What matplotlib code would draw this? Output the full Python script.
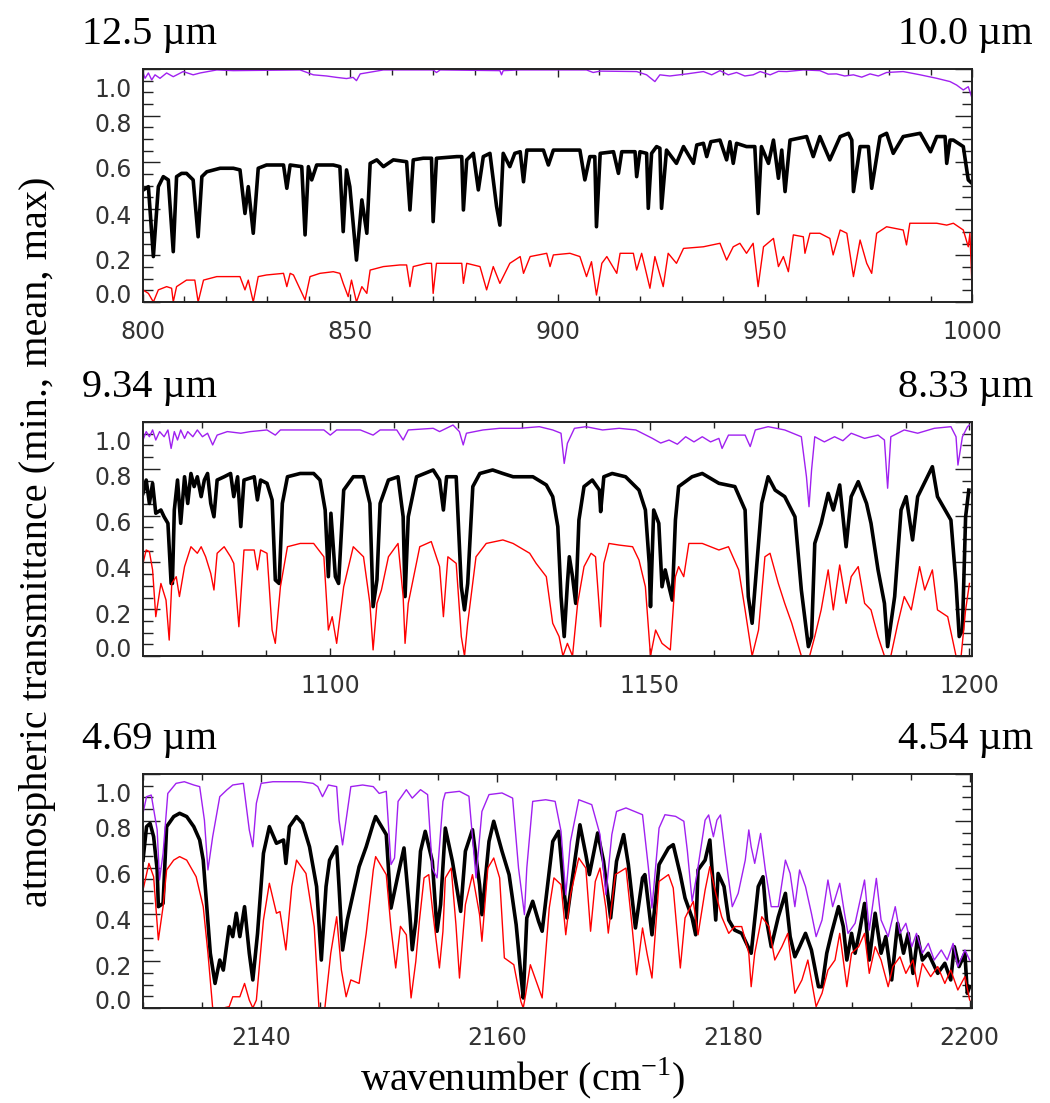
import matplotlib
matplotlib.use("Agg")
import matplotlib.pyplot as plt
import matplotlib.transforms as mtrans
from matplotlib.ticker import MultipleLocator

plt.rcParams['mathtext.fontset'] = 'custom'
plt.rcParams['mathtext.rm'] = 'Liberation Serif'

# ---- panel 1 : 800-1000 cm-1 (wavenumber, transmittance) ----
p1_max = [(799.9,0.989),(800.5,0.96),(801.3,0.983),(802.1,0.953),(802.9,0.975),(804.1,0.96),(805.7,0.983),
          (807.3,0.967),(809.7,0.989),(812.1,0.975),(813.8,0.983),(817.8,0.996),(821.8,0.993),(837.9,0.996),
          (841.1,0.975),(844.3,0.97),(846.7,0.964),(849.1,0.959),(850.7,0.964),(851.5,0.95),(852.4,0.979),
          (858.0,0.996),(870.0,0.996),(870.8,0.985),(871.7,0.996),(886.1,0.993),(886.5,0.975),(886.9,0.993),
          (891.0,0.996),(907.0,0.996),(908.6,0.985),(910.3,0.991),(919.1,0.989),(921.5,0.975),(923.5,0.946),
          (924.7,0.975),(927.1,0.97),(931.2,0.979),(935.2,0.989),(937.2,0.975),(939.2,0.993),(941.2,0.975),
          (943.2,0.985),(945.2,0.97),(947.2,0.975),(948.9,0.989),(951.3,0.975),(953.3,0.99),(955.3,0.989),
          (959.3,0.996),(963.3,0.993),(965.3,0.978),(967.3,0.979),(969.3,0.97),(971.4,0.975),(973.4,0.965),
          (975.4,0.979),(977.4,0.97),(979.4,0.985),(983.4,0.989),(987.5,0.975),(991.5,0.96),(994.7,0.946),
          (996.3,0.931),(997.9,0.91),(999.1,0.924),(999.9,0.881),(1000.0,0.91)]
p1_mean = [(800.0,0.48),(801.3,0.495),(802.5,0.195),(803.7,0.495),(804.9,0.538),(806.1,0.524),(807.3,0.216),
           (808.1,0.538),(809.3,0.552),(810.5,0.552),(812.1,0.524),(813.3,0.28),(814.2,0.538),(815.4,0.559),
           (818.6,0.574),(821.8,0.574),(823.4,0.567),(824.6,0.38),(825.4,0.495),(826.6,0.295),(827.8,0.574),
           (829.8,0.588),(833.9,0.588),(834.7,0.488),(835.5,0.588),(838.3,0.581),(839.1,0.288),(839.9,0.581),
           (840.7,0.524),(841.9,0.588),(845.9,0.588),(847.5,0.581),(848.3,0.302),(849.1,0.567),(849.9,0.495),
           (851.5,0.18),(852.8,0.438),(854.0,0.295),(854.8,0.595),(856.4,0.61),(858.0,0.581),(860.4,0.61),
           (863.6,0.602),(864.4,0.395),(865.2,0.61),(867.6,0.617),(869.6,0.617),(870.0,0.345),(870.8,0.617),
           (875.7,0.624),(876.9,0.624),(877.3,0.395),(878.1,0.61),(879.7,0.638),(880.9,0.481),(882.1,0.624),
           (883.7,0.638),(885.3,0.41),(886.1,0.33),(886.9,0.638),(888.5,0.581),(889.7,0.638),(891.0,0.645),
           (891.8,0.516),(892.6,0.652),(896.6,0.652),(897.8,0.588),(899.0,0.652),(905.4,0.652),(906.6,0.524),
           (907.8,0.624),(909.0,0.624),(909.4,0.323),(910.3,0.638),(913.5,0.645),(914.7,0.552),(915.5,0.645),
           (918.7,0.645),(919.1,0.538),(919.9,0.645),(921.5,0.638),(921.9,0.402),(922.7,0.638),(923.9,0.667),
           (924.7,0.66),(925.1,0.402),(926.3,0.652),(928.7,0.595),(930.4,0.667),(932.8,0.595),(933.6,0.674),
           (935.2,0.681),(936.0,0.624),(937.0,0.688),(939.2,0.695),(940.8,0.61),(941.6,0.688),(942.4,0.595),
           (943.2,0.681),(945.6,0.667),(947.6,0.667),(948.4,0.38),(949.2,0.667),(950.9,0.595),(952.1,0.695),
           (953.3,0.531),(954.1,0.652),(954.9,0.474),(956.1,0.695),(960.1,0.71),(961.7,0.624),(963.3,0.71),
           (965.7,0.61),(968.2,0.71),(970.2,0.724),(971.0,0.695),(971.4,0.474),(973.0,0.667),(975.0,0.667),
           (975.8,0.488),(977.8,0.71),(979.4,0.724),(981.0,0.638),(983.4,0.71),(987.5,0.724),(990.0,0.645),
           (991.5,0.71),(993.5,0.71),(993.9,0.595),(994.7,0.695),(995.5,0.695),(997.9,0.667),(999.1,0.524),
           (1000.0,0.509)]
p1_min = [(800.0,0.052),(801.3,0.037),(802.5,0.0),(803.7,0.052),(805.7,0.066),(806.9,0.059),(807.3,0.0),
          (808.1,0.066),(810.5,0.094),(812.5,0.094),(813.3,0.0),(814.6,0.094),(817.8,0.109),(823.4,0.109),
          (824.6,0.052),(825.4,0.094),(826.6,0.0),(827.8,0.109),(829.8,0.116),(833.9,0.123),(834.7,0.066),
          (835.5,0.123),(836.3,0.116),(839.1,0.009),(840.3,0.109),(842.7,0.123),(845.9,0.13),(847.5,0.123),
          (848.3,0.08),(849.5,0.023),(850.3,0.094),(851.5,0.0),(852.8,0.066),(854.0,0.037),(854.8,0.137),
          (858.0,0.152),(862.0,0.159),(863.6,0.159),(864.4,0.066),(865.2,0.152),(868.4,0.166),(869.6,0.166),
          (870.0,0.037),(870.8,0.166),(875.7,0.166),(876.9,0.166),(877.3,0.08),(878.1,0.166),(881.3,0.152),
          (882.9,0.052),(884.5,0.152),(886.1,0.08),(888.5,0.166),(891.0,0.195),(891.8,0.123),(893.4,0.195),
          (897.4,0.209),(898.2,0.152),(899.0,0.202),(903.0,0.209),(905.4,0.195),(907.0,0.109),(908.2,0.173),
          (909.4,0.03),(910.7,0.166),(911.9,0.195),(914.3,0.123),(915.1,0.209),(918.3,0.209),(919.1,0.137),
          (920.3,0.209),(922.3,0.059),(923.5,0.195),(925.5,0.066),(926.7,0.209),(928.7,0.166),(930.4,0.23),
          (935.2,0.237),(939.2,0.252),(940.8,0.18),(942.4,0.237),(944.0,0.252),(945.6,0.209),(947.2,0.252),
          (948.4,0.066),(949.7,0.237),(952.1,0.273),(953.3,0.152),(954.5,0.195),(955.7,0.13),(956.9,0.288),
          (959.3,0.28),(959.7,0.209),(960.9,0.295),(963.3,0.295),(965.7,0.273),(966.5,0.202),(968.2,0.309),
          (969.8,0.295),(971.4,0.109),(973.0,0.266),(974.6,0.166),(975.8,0.123),(977.0,0.295),(979.4,0.323),
          (983.4,0.309),(984.2,0.245),(985.0,0.338),(987.5,0.338),(991.5,0.338),(993.9,0.33),(995.5,0.338),
          (997.9,0.309),(999.1,0.237),(999.5,0.295),(1000.0,0.066)]

# ---- panel 2 : 1070-1200 cm-1 ----
p2_max = [(1070.7,0.923),(1071.2,0.959),(1071.7,0.937),(1072.2,0.966),(1072.7,0.923),(1073.3,0.959),
          (1074.0,0.937),(1074.6,0.966),(1075.1,0.887),(1075.6,0.959),(1076.1,0.923),(1076.6,0.966),
          (1077.2,0.93),(1077.7,0.959),(1078.5,0.937),(1079.2,0.966),(1080.0,0.937),(1080.8,0.952),
          (1081.6,0.902),(1082.3,0.944),(1083.9,0.959),(1086.0,0.952),(1087.5,0.959),(1090.1,0.966),
          (1091.4,0.944),(1092.2,0.966),(1095.3,0.966),(1099.0,0.966),(1100.0,0.944),(1101.0,0.966),
          (1104.7,0.966),(1106.7,0.944),(1107.8,0.966),(1110.4,0.966),(1111.4,0.923),(1112.2,0.966),
          (1116.1,0.973),(1117.1,0.959),(1119.2,0.987),(1120.2,0.959),(1120.8,0.902),(1121.3,0.952),
          (1123.9,0.966),(1126.5,0.973),(1129.6,0.973),(1132.7,0.98),(1134.8,0.966),(1136.1,0.952),
          (1136.6,0.823),(1137.1,0.909),(1138.2,0.973),(1140.0,0.98),(1142.6,0.966),(1145.2,0.973),
          (1147.8,0.966),(1150.4,0.93),(1151.7,0.91),(1153.0,0.923),(1154.3,0.905),(1155.6,0.937),
          (1156.9,0.915),(1158.2,0.937),(1159.5,0.915),(1160.8,0.93),(1161.3,0.887),(1162.3,0.944),
          (1164.9,0.944),(1165.7,0.895),(1166.5,0.966),(1168.5,0.98),(1171.1,0.966),(1173.7,0.937),
          (1174.5,0.766),(1174.9,0.638),(1175.3,0.795),(1175.8,0.937),(1177.3,0.915),(1178.9,0.937),
          (1180.2,0.92),(1181.5,0.952),(1183.6,0.93),(1185.7,0.944),(1186.7,0.923),(1187.2,0.717),
          (1187.7,0.937),(1189.8,0.966),(1191.9,0.952),(1194.5,0.973),(1197.1,0.98),(1197.9,0.937),
          (1198.2,0.816),(1198.9,0.937),(1199.7,0.98),(1200.0,0.987)]
p2_mean = [(1070.7,0.695),(1071.2,0.752),(1071.7,0.652),(1072.2,0.738),(1072.7,0.61),(1073.5,0.624),
           (1074.0,0.595),(1074.6,0.567),(1075.1,0.31),(1075.3,0.31),(1075.6,0.624),(1076.1,0.752),
           (1076.6,0.567),(1077.2,0.766),(1077.7,0.652),(1078.2,0.78),(1078.7,0.724),(1079.2,0.766),
           (1079.8,0.681),(1080.3,0.752),(1080.8,0.78),(1081.3,0.652),(1081.8,0.595),(1082.3,0.752),
           (1083.4,0.766),(1084.4,0.78),(1084.9,0.681),(1085.5,0.766),(1086.0,0.553),(1086.5,0.752),
           (1088.1,0.766),(1088.6,0.667),(1089.1,0.752),(1090.1,0.738),(1090.9,0.667),(1091.4,0.325),
           (1092.0,0.31),(1092.5,0.652),(1093.3,0.766),(1095.3,0.78),(1097.4,0.78),(1098.4,0.752),
           (1099.2,0.624),(1099.7,0.339),(1100.1,0.61),(1100.8,0.339),(1101.3,0.31),(1102.1,0.709),
           (1103.6,0.766),(1105.2,0.766),(1106.2,0.652),(1106.7,0.211),(1107.3,0.325),(1107.8,0.652),
           (1109.1,0.752),(1110.6,0.766),(1111.4,0.595),(1111.7,0.254),(1112.2,0.595),(1113.5,0.766),
           (1116.1,0.795),(1117.1,0.752),(1117.7,0.624),(1118.2,0.766),(1119.7,0.766),(1120.5,0.296),
           (1121.0,0.197),(1121.5,0.31),(1122.3,0.724),(1123.4,0.78),(1125.4,0.795),(1127.0,0.78),
           (1128.6,0.766),(1129.6,0.766),(1131.7,0.766),(1133.8,0.731),(1134.8,0.681),(1135.6,0.553),
           (1136.1,0.254),(1136.6,0.083),(1137.1,0.31),(1137.4,0.424),(1137.9,0.339),(1138.4,0.225),
           (1138.9,0.581),(1139.7,0.724),(1141.0,0.752),(1142.1,0.709),(1142.3,0.617),(1142.8,0.766),
           (1144.1,0.78),(1146.2,0.766),(1148.3,0.709),(1149.3,0.624),(1149.9,0.396),(1150.1,0.211),
           (1150.6,0.624),(1151.4,0.567),(1151.9,0.296),(1152.4,0.368),(1153.0,0.296),(1153.5,0.239),
           (1154.0,0.581),(1154.5,0.724),(1156.6,0.766),(1158.2,0.78),(1160.8,0.738),(1163.3,0.724),
           (1164.9,0.624),(1165.4,0.254),(1166.0,0.14),(1166.5,0.31),(1167.5,0.652),(1168.5,0.766),
           (1169.6,0.709),(1171.1,0.681),(1172.7,0.595),(1173.7,0.282),(1174.8,0.04),(1175.3,0.083),
           (1175.8,0.481),(1176.8,0.567),(1177.9,0.695),(1178.7,0.624),(1179.7,0.731),(1180.7,0.467),
           (1181.5,0.681),(1182.6,0.745),(1183.9,0.652),(1184.6,0.567),(1185.7,0.368),(1186.7,0.225),
           (1187.2,0.04),(1188.3,0.254),(1189.3,0.624),(1190.1,0.681),(1191.1,0.496),(1191.9,0.681),
           (1194.2,0.809),(1195.0,0.681),(1197.1,0.581),(1197.9,0.31),(1198.4,0.083),(1198.9,0.111),
           (1199.4,0.595),(1199.9,0.709)]
p2_min = [(1070.7,0.396),(1071.2,0.453),(1071.7,0.446),(1072.2,0.368),(1072.7,0.168),(1073.5,0.31),
          (1074.3,0.239),(1074.8,0.068),(1075.2,0.31),(1075.9,0.339),(1076.4,0.254),(1077.2,0.382),
          (1078.2,0.467),(1079.2,0.439),(1079.8,0.467),(1080.5,0.424),(1081.3,0.353),(1081.8,0.282),
          (1082.3,0.439),(1083.4,0.467),(1084.4,0.424),(1084.9,0.396),(1085.7,0.125),(1086.5,0.453),
          (1088.1,0.453),(1088.6,0.368),(1089.1,0.453),(1090.1,0.439),(1090.9,0.111),(1091.4,0.054),
          (1092.2,0.296),(1093.3,0.467),(1095.3,0.481),(1097.4,0.481),(1099.0,0.424),(1099.7,0.111),
          (1100.3,0.168),(1101.0,0.054),(1102.1,0.296),(1103.6,0.467),(1105.2,0.424),(1106.2,0.225),
          (1106.7,0.026),(1107.3,0.225),(1108.0,0.282),(1109.1,0.424),(1110.6,0.481),(1111.4,0.254),
          (1111.7,0.054),(1112.2,0.225),(1114.0,0.467),(1115.8,0.489),(1117.1,0.382),(1117.7,0.168),
          (1118.4,0.424),(1119.7,0.396),(1120.5,0.083),(1121.0,0.0),(1121.5,0.14),(1122.8,0.424),
          (1124.4,0.481),(1127.0,0.496),(1128.6,0.481),(1129.6,0.465),(1131.2,0.439),(1132.2,0.396),
          (1133.8,0.339),(1134.8,0.14),(1135.8,0.083),(1136.4,0.0),(1137.1,0.054),(1137.9,0.0),
          (1138.7,0.225),(1139.7,0.382),(1140.8,0.439),(1141.5,0.424),(1142.3,0.125),(1142.8,0.396),
          (1143.6,0.481),(1145.2,0.474),(1147.3,0.467),(1148.3,0.41),(1149.3,0.296),(1150.1,0.0),
          (1150.9,0.111),(1151.9,0.054),(1153.2,0.026),(1154.0,0.339),(1154.5,0.382),(1155.3,0.339),
          (1156.1,0.481),(1158.2,0.481),(1160.8,0.453),(1162.3,0.467),(1163.9,0.368),(1164.9,0.197),
          (1166.0,0.0),(1167.0,0.111),(1168.0,0.424),(1168.8,0.439),(1170.1,0.31),(1171.1,0.225),
          (1172.2,0.14),(1173.7,0.0),(1175.0,0.0),(1175.8,0.083),(1176.8,0.197),(1177.9,0.368),
          (1178.7,0.197),(1179.7,0.389),(1180.7,0.225),(1181.5,0.339),(1182.6,0.382),(1183.6,0.225),
          (1184.6,0.197),(1185.7,0.083),(1186.7,0.0),(1187.7,0.0),(1188.8,0.14),(1189.8,0.254),
          (1190.9,0.197),(1192.2,0.382),(1193.0,0.282),(1194.2,0.368),(1195.0,0.197),(1196.6,0.168),
          (1197.9,0.0),(1198.7,0.0),(1199.4,0.197),(1200.0,0.31)]

# ---- panel 3 : 2130-2200 cm-1 ----
p3_max = [(2130.0,0.832),(2130.3,0.903),(2130.7,0.91),(2131.2,0.761),(2131.4,0.547),(2131.7,0.661),
          (2132.1,0.917),(2132.8,0.96),(2133.5,0.967),(2134.3,0.953),(2134.8,0.946),(2135.2,0.803),
          (2135.5,0.59),(2135.9,0.732),(2136.5,0.903),(2137.1,0.932),(2137.6,0.953),(2138.5,0.96),
          (2139.0,0.761),(2139.3,0.689),(2139.6,0.875),(2140.0,0.96),(2141.0,0.967),(2142.1,0.967),
          (2143.3,0.967),(2144.4,0.96),(2144.8,0.946),(2145.2,0.903),(2145.7,0.953),(2146.4,0.946),
          (2146.6,0.803),(2146.9,0.697),(2147.2,0.803),(2147.6,0.946),(2148.6,0.953),(2149.5,0.946),
          (2150.0,0.917),(2150.6,0.926),(2151.0,0.613),(2151.3,0.641),(2151.6,0.883),(2152.3,0.933),
          (2152.8,0.897),(2153.5,0.933),(2154.1,0.912),(2154.5,0.598),(2154.9,0.556),(2155.4,0.883),
          (2155.6,0.919),(2156.8,0.926),(2157.6,0.905),(2158.2,0.556),(2158.7,0.84),(2159.3,0.912),
          (2160.4,0.919),(2161.3,0.897),(2161.8,0.598),(2162.3,0.399),(2162.5,0.598),(2163.0,0.883),
          (2164.1,0.89),(2164.9,0.883),(2165.4,0.755),(2165.8,0.484),(2166.2,0.712),(2166.9,0.89),
          (2168.0,0.869),(2168.7,0.741),(2169.2,0.484),(2169.7,0.741),(2170.1,0.84),(2170.9,0.855),
          (2172.3,0.826),(2172.8,0.598),(2173.1,0.427),(2173.7,0.769),(2174.2,0.826),(2175.1,0.819),
          (2175.8,0.798),(2176.1,0.67),(2176.5,0.456),(2176.9,0.57),(2177.6,0.803),(2177.9,0.825),
          (2178.3,0.732),(2178.6,0.803),(2178.9,0.825),(2179.3,0.661),(2179.9,0.433),(2180.4,0.49),
          (2181.0,0.632),(2181.3,0.761),(2181.5,0.689),(2181.8,0.618),(2182.3,0.746),(2182.7,0.59),
          (2183.2,0.433),(2183.8,0.433),(2184.4,0.632),(2184.8,0.575),(2185.2,0.433),(2185.6,0.59),
          (2186.1,0.519),(2186.6,0.405),(2187.0,0.305),(2187.5,0.376),(2188.0,0.547),(2188.4,0.433),
          (2189.0,0.533),(2189.4,0.405),(2189.7,0.319),(2190.3,0.362),(2191.1,0.547),(2191.5,0.333),
          (2192.1,0.554),(2192.5,0.376),(2193.1,0.305),(2193.7,0.433),(2194.1,0.319),(2194.6,0.362),
          (2195.1,0.262),(2195.5,0.319),(2196.0,0.234),(2196.5,0.276),(2197.0,0.205),(2197.6,0.248),
          (2198.1,0.205),(2198.6,0.276),(2199.0,0.177),(2199.6,0.248),(2200.0,0.205)]
p3_mean = [(2130.0,0.632),(2130.3,0.775),(2130.6,0.789),(2130.9,0.732),(2131.2,0.59),(2131.3,0.433),
           (2131.7,0.447),(2132.0,0.775),(2132.6,0.818),(2133.1,0.832),(2133.7,0.818),(2134.3,0.775),
           (2134.8,0.718),(2135.1,0.632),(2135.4,0.433),(2135.7,0.234),(2136.1,0.105),(2136.5,0.205),
           (2136.8,0.162),(2137.3,0.348),(2137.6,0.305),(2137.9,0.405),(2138.2,0.305),(2138.6,0.433),
           (2139.0,0.234),(2139.3,0.12),(2139.7,0.319),(2140.2,0.661),(2140.7,0.775),(2141.3,0.704),
           (2141.9,0.718),(2142.1,0.618),(2142.4,0.775),(2143.0,0.818),(2143.5,0.789),(2144.1,0.689),
           (2144.7,0.519),(2145.1,0.205),(2145.5,0.519),(2145.8,0.632),(2146.4,0.689),(2146.6,0.519),
           (2146.9,0.248),(2147.3,0.376),(2147.8,0.49),(2148.3,0.604),(2148.9,0.689),(2149.5,0.789),
           (2149.7,0.818),(2150.6,0.741),(2151.0,0.427),(2151.6,0.57),(2152.1,0.684),(2152.6,0.399),
           (2152.8,0.249),(2153.1,0.37),(2153.5,0.67),(2153.9,0.755),(2154.5,0.627),(2154.9,0.328),
           (2155.2,0.442),(2155.6,0.769),(2156.2,0.627),(2156.9,0.413),(2157.3,0.67),(2157.9,0.762),
           (2158.5,0.527),(2158.7,0.399),(2159.3,0.712),(2159.7,0.798),(2160.4,0.67),(2161.0,0.57),
           (2161.6,0.356),(2162.0,0.142),(2162.2,0.043),(2162.5,0.385),(2163.0,0.456),(2163.5,0.37),
           (2163.8,0.328),(2164.7,0.712),(2165.2,0.755),(2165.6,0.527),(2165.9,0.385),(2166.6,0.641),
           (2167.0,0.783),(2167.5,0.655),(2167.8,0.57),(2168.5,0.748),(2169.0,0.627),(2169.6,0.385),
           (2170.1,0.627),(2170.7,0.741),(2171.1,0.613),(2171.7,0.342),(2172.3,0.556),(2172.5,0.57),
           (2173.1,0.313),(2173.7,0.613),(2174.5,0.684),(2174.9,0.698),(2175.5,0.57),(2175.9,0.47),
           (2176.5,0.385),(2176.8,0.313),(2177.0,0.59),(2177.6,0.632),(2178.0,0.718),(2178.5,0.376),
           (2178.7,0.575),(2179.2,0.519),(2179.6,0.376),(2180.1,0.333),(2180.7,0.319),(2181.5,0.234),
           (2182.1,0.519),(2182.5,0.561),(2182.8,0.376),(2183.2,0.262),(2183.8,0.39),(2184.4,0.49),
           (2184.8,0.305),(2185.2,0.219),(2185.6,0.262),(2186.1,0.319),(2186.6,0.248),(2187.2,0.091),
           (2187.5,0.091),(2187.9,0.234),(2188.3,0.319),(2188.9,0.433),(2189.3,0.348),(2189.6,0.205),
           (2190.0,0.319),(2190.3,0.234),(2190.7,0.333),(2191.1,0.447),(2191.5,0.205),(2192.0,0.405),
           (2192.5,0.234),(2192.9,0.305),(2193.4,0.12),(2193.9,0.362),(2194.4,0.234),(2194.8,0.319),
           (2195.2,0.148),(2195.6,0.305),(2196.0,0.205),(2196.5,0.234),(2197.3,0.148),(2197.9,0.191),
           (2198.4,0.12),(2198.7,0.262),(2199.1,0.177),(2199.6,0.234),(2199.8,0.063),(2200.0,0.091)]
p3_min = [(2130.0,0.504),(2130.5,0.618),(2130.9,0.561),(2131.3,0.291),(2131.7,0.433),(2132.0,0.59),
          (2132.6,0.632),(2133.1,0.647),(2133.7,0.632),(2134.5,0.561),(2135.1,0.433),(2135.5,0.234),
          (2135.9,0.0),(2136.8,0.0),(2137.3,0.006),(2137.6,0.048),(2138.2,0.048),(2138.6,0.105),
          (2139.0,0.034),(2139.3,0.0),(2139.6,0.034),(2140.2,0.376),(2140.7,0.533),(2141.3,0.405),
          (2141.6,0.412),(2142.1,0.248),(2142.6,0.519),(2143.0,0.632),(2143.8,0.575),(2144.5,0.348),
          (2144.9,0.0),(2145.4,0.0),(2145.9,0.234),(2146.4,0.39),(2146.8,0.162),(2147.2,0.048),
          (2147.6,0.12),(2148.3,0.105),(2148.9,0.319),(2149.5,0.59),(2149.7,0.647),(2150.6,0.57),
          (2151.0,0.342),(2151.4,0.171),(2151.8,0.349),(2152.3,0.313),(2152.7,0.043),(2153.1,0.199),
          (2153.4,0.37),(2153.8,0.556),(2154.2,0.57),(2154.5,0.427),(2155.1,0.171),(2155.4,0.328),
          (2155.6,0.556),(2156.1,0.598),(2156.5,0.356),(2156.8,0.128),(2157.3,0.442),(2157.9,0.57),
          (2158.5,0.399),(2158.7,0.285),(2159.2,0.598),(2159.7,0.641),(2160.2,0.556),(2160.6,0.214),
          (2161.4,0.185),(2162.0,0.028),(2162.2,0.0),(2162.4,0.057),(2162.8,0.185),(2163.3,0.114),
          (2163.8,0.043),(2164.4,0.427),(2164.8,0.556),(2165.4,0.527),(2165.8,0.313),(2166.2,0.484),
          (2166.9,0.641),(2167.5,0.598),(2167.9,0.328),(2168.3,0.541),(2168.7,0.598),(2169.2,0.427),
          (2169.4,0.32),(2170.0,0.57),(2170.9,0.598),(2171.4,0.356),(2171.8,0.142),(2172.3,0.342),
          (2172.7,0.228),(2173.1,0.128),(2173.7,0.541),(2174.5,0.57),(2174.9,0.513),(2175.5,0.171),
          (2175.9,0.385),(2176.6,0.456),(2177.0,0.313),(2177.6,0.504),(2178.0,0.604),(2178.5,0.49),
          (2179.0,0.39),(2179.6,0.319),(2180.1,0.348),(2180.7,0.348),(2181.3,0.234),(2181.5,0.091),
          (2181.8,0.234),(2182.4,0.39),(2183.0,0.348),(2183.5,0.205),(2184.1,0.262),(2184.6,0.319),
          (2185.2,0.063),(2185.8,0.12),(2186.3,0.205),(2187.0,0.006),(2187.5,0.063),(2188.0,0.162),
          (2188.6,0.205),(2189.0,0.319),(2189.6,0.091),(2190.0,0.234),(2190.6,0.262),(2191.1,0.319),
          (2191.5,0.148),(2192.0,0.262),(2192.5,0.205),(2193.1,0.091),(2193.5,0.177),(2194.1,0.219),
          (2194.6,0.148),(2195.2,0.205),(2195.6,0.091),(2196.0,0.191),(2196.7,0.134),(2197.3,0.177),
          (2197.9,0.105),(2198.4,0.162),(2199.0,0.077),(2199.6,0.134),(2200.0,0.034)]

panels = [
    dict(mx=p1_max, mean=p1_mean, mn=p1_min, xlim=(800, 1000), major=50, minor=10,
         left="12.5 \u00b5m", right="10.0 \u00b5m"),
    dict(mx=p2_max, mean=p2_mean, mn=p2_min, xlim=(1070.7, 1200.4), major=50, minor=10,
         left="9.34 \u00b5m", right="8.33 \u00b5m"),
    dict(mx=p3_max, mean=p3_mean, mn=p3_min, xlim=(2130, 2200.2), major=20, minor=5,
         left="4.69 \u00b5m", right="4.54 \u00b5m"),
]

W, H = 1050, 1103
fig = plt.figure(figsize=(W / 100, H / 100), dpi=100)

ax_px = [(69, 302), (422, 656), (774, 1008)]   # top / bottom of each frame in pixels
left_px, right_px = 143, 972
serif = "Liberation Serif"

for (top, bot), p in zip(ax_px, panels):
    ax = fig.add_axes([left_px / W, 1 - bot / H, (right_px - left_px) / W, (bot - top) / H])
    for key, col, lw in [("mean", "black", 2.6), ("mn", "#ff0000", 1.0), ("mx", "#a020f0", 1.0)]:
        wn = [a for a, b in p[key]]
        tr = [b for a, b in p[key]]
        ax.plot(wn, tr, color=col, lw=lw)
    ax.set_xlim(*p["xlim"])
    ax.set_ylim(0, 1.0)
    ax.xaxis.set_major_locator(MultipleLocator(p["major"]))
    ax.xaxis.set_minor_locator(MultipleLocator(p["minor"]))
    ax.set_yticks([0, 0.2, 0.4, 0.6, 0.8, 1.0])
    ax.set_yticklabels(["0.0", "0.2", "0.4", "0.6", "0.8", "1.0"])
    ax.yaxis.set_minor_locator(MultipleLocator(0.05))
    ax.tick_params(which="both", direction="in", top=True, right=True, width=1.0, color="#222222")
    ax.tick_params(axis="y", which="major", length=12, pad=8)
    ax.tick_params(axis="y", which="minor", length=7)
    ax.tick_params(axis="x", which="major", length=6, pad=13)
    ax.tick_params(axis="x", which="minor", length=4)
    for lab in ax.get_xticklabels() + ax.get_yticklabels():
        lab.set_fontsize(17)
        lab.set_color("#333333")
    for sp in ax.spines.values():
        sp.set_linewidth(1.4)
        sp.set_color("#222222")
    # y labels sit slightly below their ticks, end labels pulled inside the frame
    shifts = {0: 6, 1: -3, 2: -4, 3: -4, 4: -5, 5: -13}
    for i, tk in enumerate(ax.yaxis.get_major_ticks()):
        off = mtrans.ScaledTranslation(0, shifts[i] / 72, fig.dpi_scale_trans)
        tk.label1.set_transform(tk.label1.get_transform() + off)

    fig.text(82 / W, 1 - (top - 25) / H, p["left"], family=serif, fontsize=29, ha="left", va="baseline")
    fig.text(1033 / W, 1 - (top - 25) / H, p["right"], family=serif, fontsize=29, ha="right", va="baseline")

fig.text(38 / W, 1 - 542 / H, "atmospheric transmittance (min., mean, max)", family=serif, fontsize=29,
         rotation=90, ha="center", va="center")
fig.text(523 / W, 1 - 1090 / H, "wavenumber (cm$^{\\mathrm{-1}}$)", family=serif, fontsize=29,
         ha="center", va="baseline")

fig.savefig("out.png", dpi=100)
